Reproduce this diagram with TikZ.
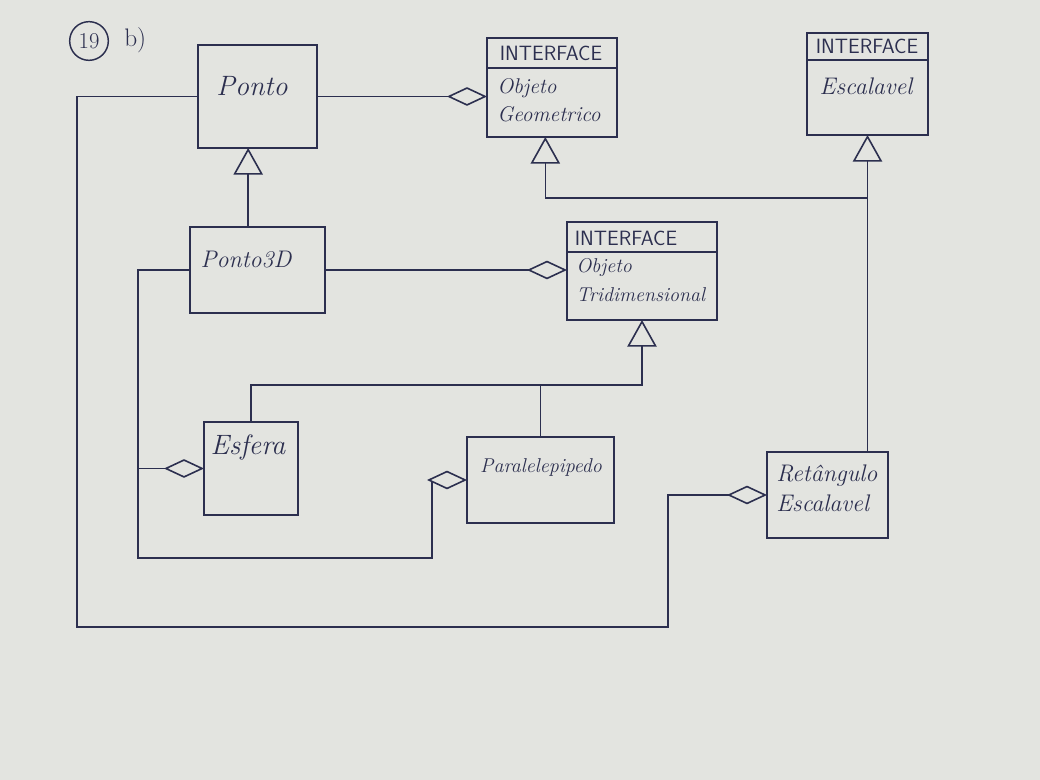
\documentclass[tikz,border=0pt]{standalone}
\usepackage{fontspec}
\usetikzlibrary{arrows.meta,calc}
\definecolor{paper}{HTML}{E3E4E0}
\definecolor{ink}{HTML}{2C2F4F}
\tikzset{
  umlbox/.style={draw=ink, line width=1.3pt, inner sep=0pt, outer sep=0pt, rectangle},
  conn/.style={draw=ink, line width=1.2pt},
  genarrow/.style={conn, -{Triangle[fill=paper, length=20pt, width=22pt]}},
  aggarrow/.style={conn, -{Diamond[fill=paper, length=30pt, width=14pt]}},
  hand/.style={text=ink, font=\itshape\fontsize{17}{21}\selectfont, inner sep=0pt},
  iface/.style={text=ink, font=\sffamily\fontsize{15.5}{17}\selectfont, inner sep=0pt},
  divider/.style={draw=ink, line width=1.2pt}
}
\begin{document}
\begin{tikzpicture}[x=0.75pt,y=-0.75pt]
\fill[paper] (0,0) rectangle (1040,780);
\useasboundingbox (0,0) rectangle (1040,780);

% header
\node[draw=ink, line width=1.1pt, circle, minimum size=29pt, inner sep=0pt, text=ink, font=\fontsize{17}{19}\selectfont] (num) at (89,41) {19};
\node[hand, font=\fontsize{19}{21}\selectfont, anchor=west] (item) at (124,40) {b)};

% boxes
\node[umlbox, minimum width=89.25pt, minimum height=77.25pt] (ponto) at (257.5,96.5) {};
\node[umlbox, minimum width=97.5pt, minimum height=74.25pt] (objgeo) at (552,87.5) {};
\node[umlbox, minimum width=90.75pt, minimum height=76.5pt] (escal) at (867.5,84) {};
\node[umlbox, minimum width=101.25pt, minimum height=64.5pt] (ponto3d) at (257.5,270) {};
\node[umlbox, minimum width=112.5pt, minimum height=73.5pt] (objtri) at (642,271) {};
\node[umlbox, minimum width=70.5pt, minimum height=69.75pt] (esfera) at (251,468.5) {};
\node[umlbox, minimum width=110.25pt, minimum height=64.5pt] (para) at (540.5,480) {};
\node[umlbox, minimum width=90.75pt, minimum height=64.5pt] (ret) at (827.5,495) {};

% interface dividers
\coordinate (dgeo) at (552,68);
\coordinate (desc) at (867.5,60);
\coordinate (dtri) at (642,252);
\draw[divider] (objgeo.west |- dgeo) -- (objgeo.east |- dgeo);
\draw[divider] (escal.west |- desc) -- (escal.east |- desc);
\draw[divider] (objtri.west |- dtri) -- (objtri.east |- dtri);

% texts
\node[hand, font=\itshape\fontsize{21}{24}\selectfont] (tponto) at (252,86) {Ponto};
\node[iface] (igeo) at (551,53) {INTERFACE};
\node[hand, font=\itshape\fontsize{16}{21}\selectfont, align=left, anchor=north west] (tgeo) at (497,78) {Objeto\\Geometrico};
\node[iface] (iesc) at (867,46) {INTERFACE};
\node[hand, font=\itshape\fontsize{18}{21}\selectfont] (tesc) at (866,86) {Escalavel};
\node[hand, font=\itshape\fontsize{18}{21}\selectfont] (tponto3d) at (246,260) {Ponto3D};
\node[iface] (itri) at (626,238) {INTERFACE};
\node[hand, font=\itshape\fontsize{15}{22}\selectfont, align=left, anchor=north west] (ttri) at (576,258) {Objeto\\Tridimensional};
\node[hand, font=\itshape\fontsize{21}{24}\selectfont] (tesfera) at (248,448) {Esfera};
\node[hand, font=\itshape\fontsize{15}{18}\selectfont] (tpara) at (541,468) {Paralelepipedo};
\node[hand, font=\itshape\fontsize{18}{22}\selectfont, align=left, anchor=north west] (tret) at (776,465) {Retângulo\\Escalavel};

% inheritance
\draw[genarrow] ([xshift=-7pt]ponto3d.north) -- ([xshift=-7pt]ponto.south);
\coordinate (j) at (867.5,198);
\draw[conn] (ret.north -| j) -- (j);
\draw[genarrow] (j) -- (escal.south);
\draw[genarrow] (j) -| ([xshift=-5pt]objgeo.south);
\coordinate (bus) at (642,385);
\draw[genarrow] (esfera.north) |- (bus) -- (objtri.south);
\draw[conn] (para.north) -- (para.north |- bus);

% aggregations
\draw[aggarrow] (ponto.east) -- (ponto.east -| objgeo.west);
\draw[aggarrow] (ponto3d.east) -- (ponto3d.east -| objtri.west);
\coordinate (lbus) at (138,558);
\draw[aggarrow] (ponto3d.west) -| (lbus |- esfera.west) -- (esfera.west);
\coordinate (pbend) at (432,480);
\draw[aggarrow] (lbus |- esfera.west) -- (lbus) -| (pbend) -- (para.west);
\coordinate (outer) at (77,627);
\coordinate (rbend) at (668,627);
\draw[aggarrow] (ponto.west) -| (outer) -- (rbend) |- (ret.west);
\end{tikzpicture}
\end{document}
